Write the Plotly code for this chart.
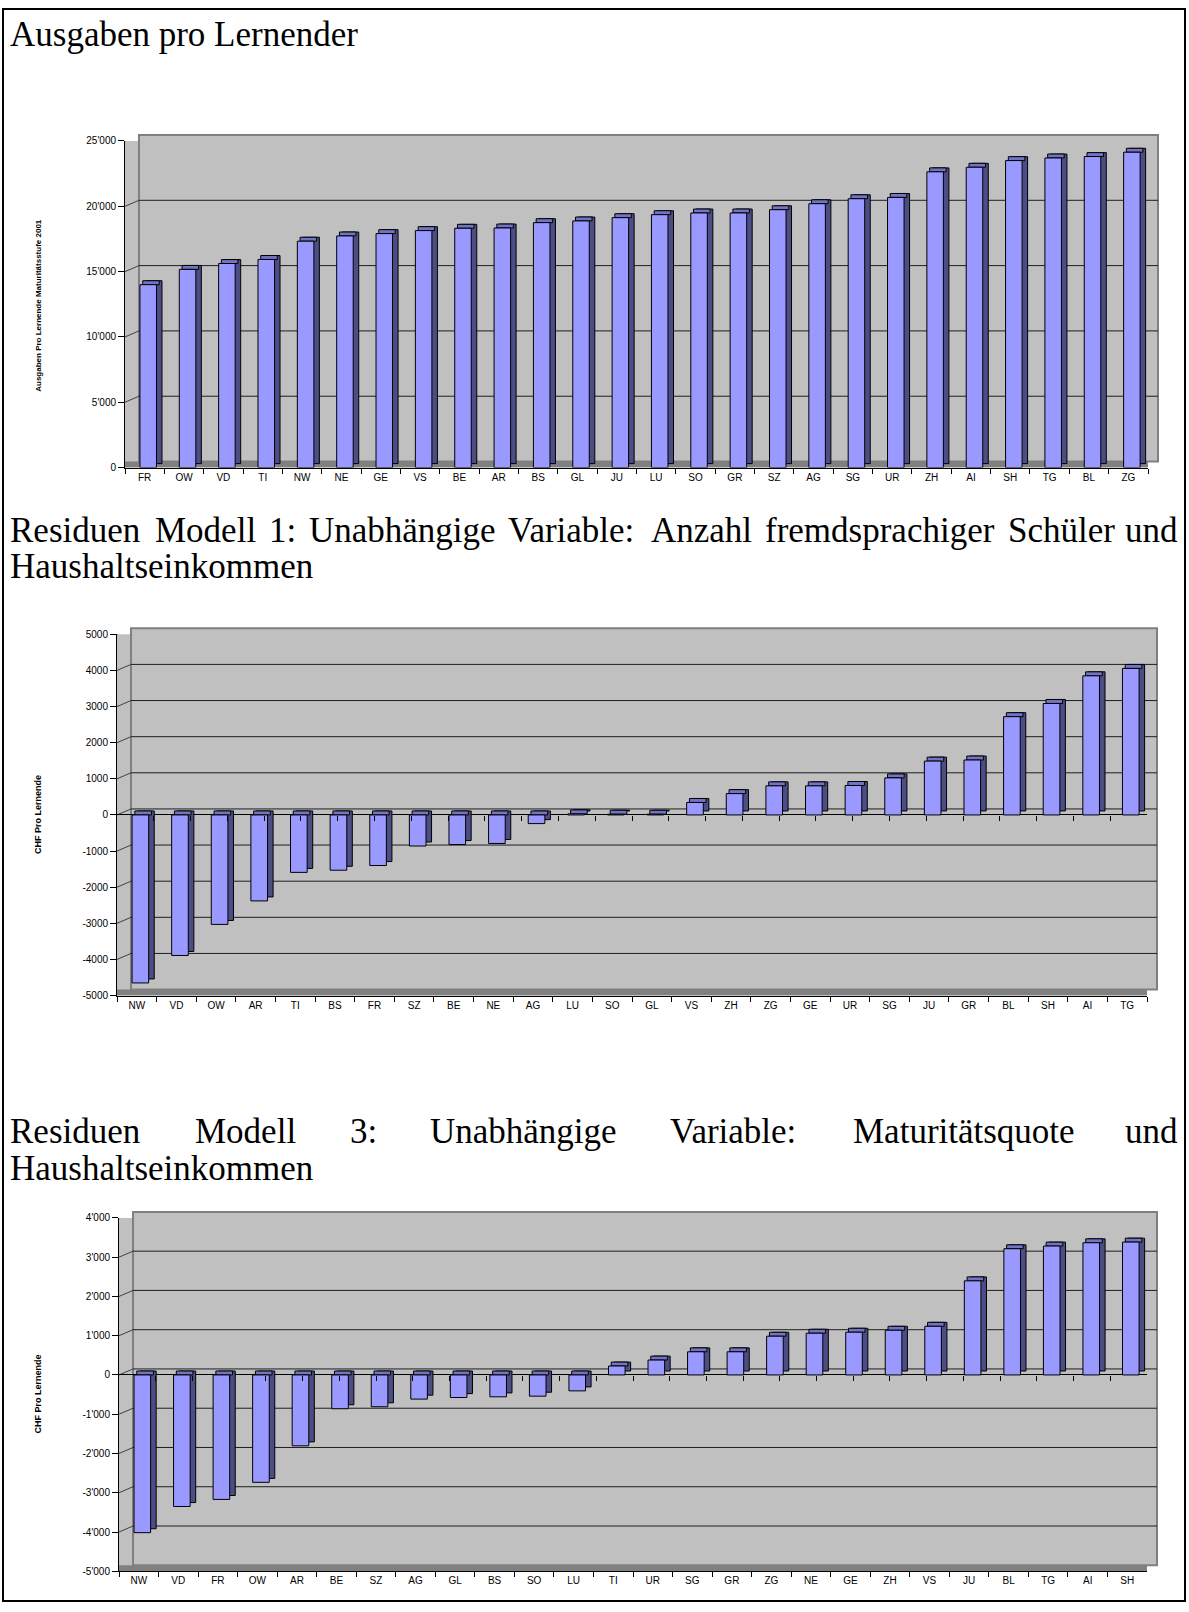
import plotly.graph_objects as go

W, H = 1189, 1612

# Ausgaben pro Lernender (CHF)
kantone_1 = ["FR", "OW", "VD", "TI", "NW", "NE", "GE", "VS", "BE", "AR", "BS", "GL", "JU",
             "LU", "SO", "GR", "SZ", "AG", "SG", "UR", "ZH", "AI", "SH", "TG", "BL", "ZG"]
ausgaben = [14000, 15170, 15620, 15930, 17330, 17730, 17910, 18140, 18320, 18340, 18750, 18880, 19130,
            19360, 19490, 19490, 19740, 20200, 20580, 20680, 22640, 22990, 23500, 23700, 23810, 24140]

# Residuen Modell 1
kantone_2 = ["NW", "VD", "OW", "AR", "TI", "BS", "FR", "SZ", "BE", "NE", "AG", "LU", "SO",
             "GL", "VS", "ZH", "ZG", "GE", "UR", "SG", "JU", "GR", "BL", "SH", "AI", "TG"]
residuen_m1 = [-4650, -3890, -3030, -2380, -1590, -1530, -1400, -860, -820, -790, -240, 30, 20,
               20, 345, 590, 805, 805, 815, 1025, 1490, 1520, 2720, 3085, 3850, 4055]

# Residuen Modell 3
kantone_3 = ["NW", "VD", "FR", "OW", "AR", "BE", "SZ", "AG", "GL", "BS", "SO", "LU", "TI",
             "UR", "SG", "GR", "ZG", "NE", "GE", "ZH", "VS", "JU", "BL", "TG", "AI", "SH"]
residuen_m3 = [-4017, -3350, -3170, -2735, -1805, -860, -810, -615, -575, -557, -540, -405, 228,
               380, 590, 590, 987, 1063, 1089, 1139, 1240, 2397, 3215, 3283, 3367, 3384]

ticks_1 = [0, 5000, 10000, 15000, 20000, 25000]
ticks_2 = [-5000, -4000, -3000, -2000, -1000, 0, 1000, 2000, 3000, 4000, 5000]
ticks_3 = [-5000, -4000, -3000, -2000, -1000, 0, 1000, 2000, 3000, 4000]

FRONT = "#9999FF"
SIDE = "#4D4D86"
TOP = "#7373C6"
WALL = "#C0C0C0"
FLOOR = "#808080"
GRID = "#1E1E1E"

# Plotflaechen in Pixeln: (links, rechts, unten, oben) und Wertebereich
boxes = {1: (125, 1148, 465, 136), 2: (117, 1147, 997, 633), 3: (119, 1147, 1577, 1221)}
ranges = {1: [0, 25000], 2: [-5000, 5000], 3: [-5000, 4000]}
DX, DY = 14, 6  # Tiefe der Rueckwand


def px_x(p):
    return p / W


def px_y(p):
    return 1 - p / H


def swiss(v, sep="'"):
    s = f"{abs(v):,}".replace(",", sep)
    return ("-" if v < 0 else "") + s


fig = go.Figure()


def add_bars(cats, vals, n, depth):
    xa = "x" if n == 1 else f"x{n}"
    ya = "y" if n == 1 else f"y{n}"
    edge = dict(color="black", width=1)
    # Seitenflaeche (3D-Effekt)
    fig.add_trace(go.Bar(x=cats, y=vals, base=[depth] * len(vals), offset=0.02, width=0.42,
                         marker=dict(color=SIDE, line=edge), xaxis=xa, yaxis=ya,
                         hoverinfo="skip", showlegend=False))
    # Deckflaeche
    fig.add_trace(go.Bar(x=cats, y=[depth] * len(vals), base=[max(v, 0) for v in vals],
                         offset=-0.05, width=0.42, marker=dict(color=TOP, line=edge),
                         xaxis=xa, yaxis=ya, hoverinfo="skip", showlegend=False))
    # Vorderseite
    fig.add_trace(go.Bar(x=cats, y=vals, offset=-0.12, width=0.42,
                         marker=dict(color=FRONT, line=edge), xaxis=xa, yaxis=ya,
                         showlegend=False))


add_bars(kantone_1, ausgaben, 1, 300)
add_bars(kantone_2, residuen_m1, 2, 110)
add_bars(kantone_3, residuen_m3, 3, 100)

# unsichtbare Spuren fuer die Teilstriche auf der Nulllinie
fig.add_trace(go.Scatter(x=kantone_2, y=[0] * len(kantone_2), mode="markers", opacity=0,
                         xaxis="x4", yaxis="y2", hoverinfo="skip", showlegend=False))
fig.add_trace(go.Scatter(x=kantone_3, y=[0] * len(kantone_3), mode="markers", opacity=0,
                         xaxis="x5", yaxis="y3", hoverinfo="skip", showlegend=False))

tickfont = dict(family="Liberation Sans", size=10, color="black")


def xaxis_cfg(n, anchor):
    x0, x1 = boxes[n][0], boxes[n][1]
    return dict(domain=[px_x(x0), px_x(x1)], anchor=anchor, showline=True, linecolor="black",
                ticks="outside", tickson="boundaries", ticklen=5, tickcolor="black",
                tickfont=tickfont, showgrid=False, fixedrange=True)


def yaxis_cfg(n, tv, tt, anchor, zero):
    yb, yt = boxes[n][2], boxes[n][3]
    return dict(domain=[px_y(yb), px_y(yt)], anchor=anchor, range=ranges[n],
                tickvals=tv, ticktext=tt, ticks="outside", ticklen=6, tickcolor="black",
                showline=True, linecolor="black", showgrid=False,
                zeroline=zero, zerolinecolor="black", zerolinewidth=1,
                tickfont=tickfont, fixedrange=True)


def zero_axis(n, base):
    x0, x1, yb, yt = boxes[n]
    r0, r1 = ranges[n]
    y_zero = yb - (0 - r0) / (r1 - r0) * (yb - yt)
    return dict(domain=[px_x(x0), px_x(x1)], overlaying=base, anchor="free", position=px_y(y_zero),
                showline=False, showgrid=False, showticklabels=False, ticks="outside",
                tickson="boundaries", ticklen=5, tickcolor="black", fixedrange=True)


fig.update_layout(
    width=W, height=H,
    margin=dict(l=0, r=0, t=0, b=0),
    paper_bgcolor="white",
    plot_bgcolor=WALL,
    barmode="overlay",
    xaxis=xaxis_cfg(1, "y"),
    yaxis=yaxis_cfg(1, ticks_1, [swiss(v) for v in ticks_1], "x", False),
    xaxis2=xaxis_cfg(2, "y2"),
    yaxis2=yaxis_cfg(2, ticks_2, [swiss(v, "") for v in ticks_2], "x2", True),
    xaxis3=xaxis_cfg(3, "y3"),
    yaxis3=yaxis_cfg(3, ticks_3, [swiss(v) for v in ticks_3], "x3", True),
    xaxis4=zero_axis(2, "x2"),
    xaxis5=zero_axis(3, "x3"),
)

shapes = []
# Rahmen um die Seite
shapes.append(dict(type="rect", xref="paper", yref="paper", x0=px_x(3), x1=px_x(1185),
                   y0=px_y(3), y1=px_y(1607), line=dict(color="black", width=2)))
for n, tv in [(1, ticks_1), (2, ticks_2), (3, ticks_3)]:
    x0, x1, yb, yt = boxes[n]
    yr = "y" if n == 1 else f"y{n}"
    xr = "x" if n == 1 else f"x{n}"
    # Rueckwand, nach hinten versetzt
    shapes.append(dict(type="rect", xref="paper", yref="paper",
                       x0=px_x(x0 + DX), x1=px_x(x1 + 10), y0=px_y(yb - DY), y1=px_y(yt - DY),
                       fillcolor=WALL, line=dict(color="#808080", width=2), layer="below"))
    # Boden
    shapes.append(dict(type="rect", xref=f"{xr} domain", yref=yr, x0=0, x1=1,
                       ysizemode="pixel", yanchor=ranges[n][0], y0=0, y1=DY,
                       fillcolor=FLOOR, line=dict(width=0), layer="below"))
    # Gitternetz auf der Rueckwand und schraege Verbindung zur Achse
    for v in tv[1:]:
        shapes.append(dict(type="line", xref="paper", yref=yr,
                           x0=px_x(x0 + DX), x1=px_x(x1 + 10),
                           ysizemode="pixel", yanchor=v, y0=DY, y1=DY,
                           line=dict(color=GRID, width=1), layer="below"))
        shapes.append(dict(type="line", xref="paper", yref=yr,
                           xsizemode="pixel", xanchor=px_x(x0), x0=0, x1=DX,
                           ysizemode="pixel", yanchor=v, y0=0, y1=DY,
                           line=dict(color="#404040", width=1), layer="below"))
fig.update_layout(shapes=shapes)

serif = dict(family="Liberation Serif", size=35, color="black")
ann = []


def text(x, y, s, anchor="left", font=serif, angle=0):
    ann.append(dict(x=px_x(x), y=px_y(y), xref="paper", yref="paper", text=s, showarrow=False,
                    xanchor=anchor, yanchor="middle", font=font, textangle=angle))


text(8, 29, "Ausgaben pro Lernender")

# Blocksatz: Woerter einzeln gesetzt
words_2 = ["Residuen", "Modell", "1:", "Unabhängige", "Variable:", "Anzahl", "fremdsprachiger", "Schüler"]
lefts_2 = [8, 153, 267, 307, 506, 649, 763, 1006]
for w, x in zip(words_2, lefts_2):
    text(x, 528, w)
text(1180, 528, "und", anchor="right")
text(8, 565, "Haushaltseinkommen")

words_3 = ["Residuen", "Modell", "3:", "Unabhängige", "Variable:", "Maturitätsquote"]
lefts_3 = [8, 193, 348, 428, 668, 851]
for w, x in zip(words_3, lefts_3):
    text(x, 1134, w)
text(1180, 1134, "und", anchor="right")
text(8, 1171, "Haushaltseinkommen")

small = dict(family="Liberation Sans", size=8, color="black")
text(39, 302, "<b>Ausgaben Pro Lernende Maturitätsstufe 2001</b>", anchor="center", font=small, angle=-90)
small9 = dict(family="Liberation Sans", size=9, color="black")
text(38, 815, "<b>CHF Pro Lernende</b>", anchor="center", font=small9, angle=-90)
text(38, 1399, "<b>CHF Pro Lernende</b>", anchor="center", font=small9, angle=-90)

fig.update_layout(annotations=ann)

fig.write_html("out.html", config={"displayModeBar": False},
               post_script="document.body.style.margin='0';")
